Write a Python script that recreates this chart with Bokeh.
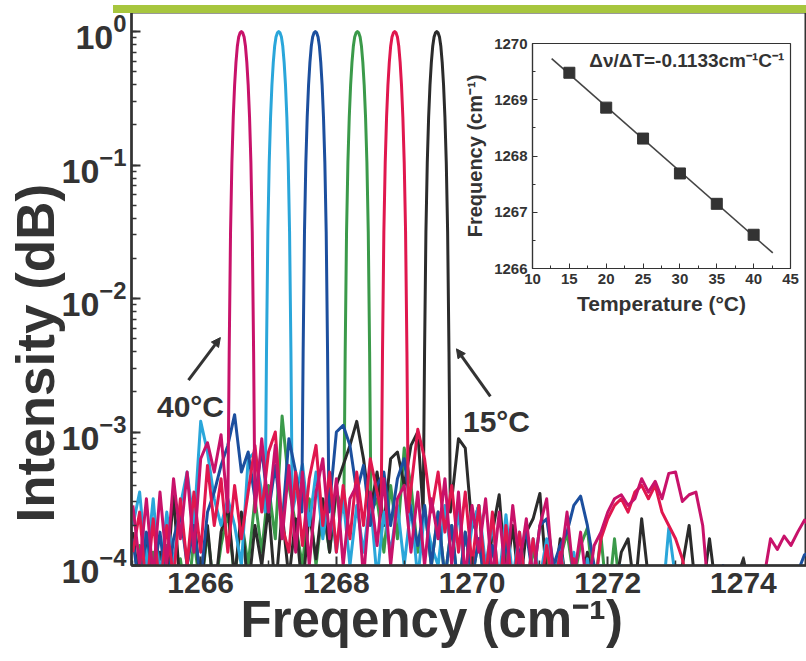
import numpy as np
from bokeh.plotting import figure
from bokeh.models import Label, Arrow, NormalHead, FixedTicker, Div, Title
from bokeh.embed import file_html
from bokeh.resources import INLINE

# ---------------- data ----------------
# inset: peak position vs temperature
temperatures = [15, 20, 25, 30, 35, 40]
peak_freq = [1269.48, 1268.86, 1268.31, 1267.69, 1267.15, 1266.60]
fit_range = [12.6, 42.6]

# main spectrum: sampling grid of the noise floor (cm^-1)
freq_grid = np.round(1265.0 + 0.1 * np.arange(101), 2)

# peak shape: offset from line centre (cm^-1) and log10 intensity
peak_offset = [-0.20, -0.18, -0.16, -0.14, -0.12, -0.10, -0.08, -0.06, -0.04, -0.02, 0.0,
               0.02, 0.04, 0.06, 0.08, 0.10, 0.12, 0.14, 0.16, 0.18, 0.20]
peak_log = [-3.6, -2.4, -1.5, -0.98, -0.64, -0.40, -0.23, -0.11, -0.04, -0.01, 0.0,
            -0.01, -0.04, -0.11, -0.23, -0.40, -0.64, -0.98, -1.5, -2.4, -3.6]

# noise floor, log10 intensity on freq_grid, one list per temperature
noise_15C = [
    -3.75, -4.2, -3.85, -4.25, -3.9, -4.1, -3.47, -4.2, -4.0, -3.6,
    -4.2, -3.7, -4.25, -3.75, -3.55, -4.1, -3.6, -4.2, -3.7, -4.0,
    -3.55, -4.2, -3.6, -4.1, -3.65, -4.2, -3.6, -3.95, -3.5, -3.9,
    -3.4, -3.25, -3.1, -2.92, -3.2, -3.6, -3.3, -3.7, -3.2, -3.15,
    -3.4, -3.1, -3.0, -3.0, -3.0, -3.0, -3.0, -3.0, -3.05, -3.12,
    -3.72, -3.55, -4.2, -3.75, -3.47, -4.1, -3.7, -4.2, -3.75, -3.65,
    -3.46, -4.1, -4.2, -3.8, -4.2, -3.95, -4.2, -3.9, -4.2, -4.1,
    -4.2, -4.2, -3.9, -3.8, -4.2, -3.65, -4.1, -4.2, -4.2, -4.2,
    -4.2, -4.0, -3.7, -4.2, -4.2, -3.8, -4.2, -4.2, -4.2, -4.1,
    -3.95, -4.2, -4.2, -4.2, -4.2, -4.2, -4.2, -4.2, -4.2, -4.2,
    -4.2]
noise_20C = [
    -3.9, -3.6, -4.2, -3.65, -4.2, -3.7, -4.1, -3.5, -4.0, -3.45,
    -3.9, -3.25, -3.7, -3.35, -3.9, -3.4, -3.8, -3.45, -3.1, -3.6,
    -3.15, -3.0, -3.7, -3.9, -3.3, -3.85, -3.35, -3.1, -3.7, -3.3,
    -3.9, -3.4, -3.8, -3.3, -3.7, -3.2, -3.35, -3.0, -3.0, -3.0,
    -3.0, -3.0, -2.98, -3.2, -3.6, -3.3, -3.75, -3.4, -3.9, -3.45,
    -4.0, -3.55, -4.1, -3.6, -4.2, -3.7, -4.2, -3.75, -4.2, -3.8,
    -4.2, -3.85, -4.2, -3.9, -4.2, -3.95, -4.2, -4.0, -4.2, -3.8,
    -3.65, -3.55, -3.5, -3.6, -3.45, -3.4, -3.5, -3.4, -3.6, -3.7,
    -3.8, -3.95, -4.2, -4.2, -4.2, -4.2, -4.2, -4.2, -4.2, -4.2,
    -4.2, -4.2, -4.2, -4.2, -4.2, -4.2, -4.2, -4.2, -4.2, -4.2,
    -4.2]
noise_25C = [
    -4.2, -3.85, -4.2, -3.9, -4.3, -3.85, -4.2, -3.95, -4.3, -3.8,
    -4.2, -3.75, -4.2, -3.85, -3.6, -4.1, -3.65, -4.0, -3.5, -3.9,
    -3.4, -3.8, -2.88, -3.4, -3.7, -4.0, -3.5, -4.0, -3.55, -3.9,
    -3.45, -3.0, -3.0, -3.0, -3.0, -3.0, -3.5, -3.9, -3.4, -3.8,
    -3.12, -3.4, -3.9, -3.55, -4.0, -3.6, -4.1, -3.7, -4.2, -3.75,
    -4.1, -3.8, -4.2, -3.85, -4.2, -3.9, -4.3, -3.95, -4.3, -3.85,
    -4.2, -3.9, -4.3, -3.95, -3.75, -4.1, -3.85, -3.72, -4.2, -3.78,
    -4.3, -3.8, -4.3, -4.3, -4.3, -4.3, -4.3, -4.3, -4.3, -4.3,
    -4.3, -4.3, -4.3, -4.3, -4.3, -4.3, -4.3, -4.3, -4.3, -4.3,
    -4.3, -4.3, -4.3, -4.3, -4.3, -4.3, -4.3, -4.3, -4.3, -4.3,
    -4.3]
noise_30C = [
    -3.8, -4.2, -3.75, -4.1, -3.75, -4.2, -3.8, -3.6, -4.0, -3.7,
    -4.1, -3.6, -3.45, -3.25, -3.1, -2.87, -3.3, -3.15, -3.5, -3.12,
    -3.6, -3.25, -3.7, -3.05, -3.3, -3.0, -3.0, -3.0, -3.0, -3.0,
    -3.0, -2.95, -3.1, -3.45, -3.25, -3.7, -3.4, -3.3, -3.7, -3.35,
    -3.2, -3.6, -3.85, -3.55, -4.0, -3.6, -4.1, -3.7, -4.2, -3.75,
    -4.1, -3.8, -4.2, -3.85, -4.2, -3.8, -4.2, -3.9, -3.75, -4.1,
    -3.7, -3.65, -4.0, -3.85, -3.75, -3.55, -3.48, -3.7, -4.0, -4.2,
    -4.3, -4.3, -4.3, -4.3, -4.3, -4.3, -4.3, -4.3, -4.3, -4.3,
    -4.3, -4.3, -4.3, -4.3, -4.3, -4.3, -4.3, -4.0, -4.3, -4.3,
    -4.3, -4.3, -4.3, -4.3, -4.3, -4.3, -4.3, -4.3, -4.05, -3.92,
    -3.9]
noise_35C = [
    -3.7, -3.45, -4.0, -3.5, -4.1, -3.6, -4.0, -3.55, -3.3, -3.7,
    -2.92, -3.15, -3.5, -3.7, -3.5, -3.7, -4.0, -3.2, -3.15, -3.4,
    -3.0, -3.0, -3.0, -3.0, -3.0, -3.24, -3.7, -3.3, -3.8, -3.45,
    -3.9, -3.5, -4.0, -3.55, -3.9, -3.5, -4.1, -3.6, -3.9, -3.55,
    -4.0, -3.55, -4.1, -3.6, -3.85, -4.0, -3.55, -3.95, -3.6, -4.1,
    -3.7, -3.55, -4.0, -3.7, -4.1, -3.62, -4.1, -3.75, -4.2, -3.8,
    -4.1, -3.8, -4.2, -3.85, -4.2, -3.9, -4.3, -3.95, -4.3, -4.0,
    -4.3, -4.3, -4.0, -4.3, -4.3, -4.3, -4.3, -4.3, -4.3, -3.72,
    -4.1, -4.3, -4.3, -4.3, -4.3, -4.3, -4.3, -4.3, -4.3, -4.3,
    -4.3, -4.3, -4.3, -4.3, -4.3, -4.3, -4.3, -4.3, -4.3, -4.3,
    -4.3]
noise_40C = [
    -3.55, -4.0, -3.5, -4.1, -3.45, -4.0, -3.35, -3.8, -3.3, -3.9,
    -3.2, -3.08, -3.3, -3.02, -3.0, -3.0, -3.0, -3.0, -3.0, -3.05,
    -3.6, -3.1, -3.8, -3.25, -3.9, -3.3, -4.0, -3.45, -3.2, -3.8,
    -3.35, -4.0, -3.5, -3.4, -4.1, -3.45, -3.85, -3.35, -4.0, -3.5,
    -3.4, -3.9, -3.45, -4.0, -3.5, -3.8, -3.35, -4.0, -3.45, -4.1,
    -3.55, -3.9, -3.5, -4.1, -3.6, -4.1, -3.55, -4.0, -3.65, -4.1,
    -3.7, -3.5, -4.1, -4.0, -3.6, -4.1, -3.75, -4.2, -3.85, -3.75,
    -3.6, -3.5, -3.47, -3.55, -3.5, -3.35, -3.45, -3.37, -3.5, -3.31,
    -3.3, -3.52, -3.47, -3.45, -3.7, -4.3, -4.3, -4.3, -4.3, -4.3,
    -4.3, -4.3, -4.3, -4.1, -3.8, -3.88, -3.78, -3.85, -3.75, -3.66,
    -3.72]

series = [  # (name, noise, colour) in drawing order
    ("25°C", noise_25C, "#3b9a4a"),
    ("15°C", noise_15C, "#2b2b2b"),
    ("35°C", noise_35C, "#2aa6da"),
    ("30°C", noise_30C, "#1c4f9e"),
    ("20°C", noise_20C, "#e0174e"),
    ("40°C", noise_40C, "#c8126a"),
]
centre_of = dict(zip(["15°C", "20°C", "25°C", "30°C", "35°C", "40°C"], peak_freq))

FONT = "Liberation Sans"
INK = "#333333"


def spectrum(centre, noise):
    xs, ys = [], []
    for f, v in zip(freq_grid, noise):
        if abs(f - centre) >= 0.27:
            xs.append(float(f))
            ys.append(10.0 ** v)
    for o, v in zip(peak_offset, peak_log):
        xs.append(centre + o)
        ys.append(10.0 ** v)
    order = np.argsort(xs)
    return np.array(xs)[order], np.array(ys)[order]


# ---------------- main plot ----------------
p = figure(width=806, height=661, x_range=(1264.98, 1274.93), y_range=(1e-4, 1.39),
           y_axis_type="log", output_backend="svg", toolbar_location=None,
           min_border_left=131, min_border_right=0, min_border_top=12, min_border_bottom=96)
p.xgrid.visible = False
p.ygrid.visible = False
p.outline_line_color = INK
p.outline_line_width = 2
p.background_fill_color = "white"
p.border_fill_color = "white"

for name, noise, col in series:
    xs, ys = spectrum(centre_of[name], noise)
    p.line(xs, ys, line_color=col, line_width=3, line_join="round")

for ax in (p.xaxis[0], p.yaxis[0]):
    ax.axis_line_color = INK
    ax.axis_line_width = 2.5
    ax.major_tick_line_color = INK
    ax.minor_tick_line_color = INK
    ax.major_tick_line_width = 2
    ax.minor_tick_line_width = 1.5
    ax.major_tick_in = 9
    ax.major_tick_out = 0
    ax.minor_tick_in = 5
    ax.minor_tick_out = 0
    ax.major_label_text_color = INK
    ax.major_label_text_font = FONT
    ax.major_label_text_font_style = "bold"

p.xaxis.ticker = FixedTicker(ticks=[1266, 1268, 1270, 1272, 1274],
                             minor_ticks=[1265, 1267, 1269, 1271, 1273])
p.xaxis.major_label_text_font_size = "30px"
p.xaxis.major_label_standoff = 7

p.yaxis.major_label_text_font_size = "34px"
p.yaxis.major_label_standoff = 5

p.add_layout(Title(text="Freqency (cm\u207b\u00b9)", align="left", offset=109,
                   text_font=FONT, text_font_size="51px", text_font_style="bold",
                   text_color=INK, standoff=-14), "below")
p.add_layout(Title(text="Intensity (dB)", align="left", offset=43,
                   text_font=FONT, text_font_size="53px", text_font_style="bold",
                   text_color=INK, standoff=-12), "left")

# annotations
for txt, x, y in [("40°C", 1265.85, 1.55e-3), ("15°C", 1270.36, 1.2e-3)]:
    p.add_layout(Label(x=x, y=y, text=txt, text_align="center", text_baseline="alphabetic",
                       text_font=FONT, text_font_style="bold", text_font_size="30px",
                       text_color=INK))
for xs0, ys0, xe, ye in [(1265.82, 2.45e-3, 1266.29, 5.1e-3),
                         (1270.27, 1.85e-3, 1269.77, 4.2e-3)]:
    p.add_layout(Arrow(end=NormalHead(size=9, fill_color=INK, line_color=INK),
                       x_start=xs0, y_start=ys0, x_end=xe, y_end=ye,
                       line_color=INK, line_width=3))

# ---------------- inset ----------------
q = figure(width=351, height=300, x_range=(10, 45), y_range=(1266, 1270),
           output_backend="svg", toolbar_location=None,
           min_border_left=77, min_border_right=16, min_border_top=13, min_border_bottom=62)
q.xgrid.visible = False
q.ygrid.visible = False
q.outline_line_color = INK
q.outline_line_width = 1.2
q.background_fill_color = "white"
q.border_fill_alpha = 0

slope, intercept = np.polyfit(temperatures, peak_freq, 1)
fit_T = np.array(fit_range)
q.line(fit_T, slope * fit_T + intercept, line_color="#444444", line_width=1.6)
q.scatter(temperatures, peak_freq, marker="square", size=11, color="#333333")

q.xaxis.ticker = FixedTicker(ticks=[10, 15, 20, 25, 30, 35, 40, 45],
                             minor_ticks=[12.5, 17.5, 22.5, 27.5, 32.5, 37.5, 42.5])
q.yaxis.ticker = FixedTicker(ticks=[1266, 1267, 1268, 1269, 1270],
                             minor_ticks=[1266.5, 1267.5, 1268.5, 1269.5])
for ax in (q.xaxis[0], q.yaxis[0]):
    ax.axis_line_color = INK
    ax.axis_line_width = 1.2
    ax.major_tick_line_color = INK
    ax.minor_tick_line_color = INK
    ax.major_tick_in = 5
    ax.major_tick_out = 0
    ax.minor_tick_in = 3
    ax.minor_tick_out = 0
    ax.major_label_text_color = INK
    ax.major_label_text_font = FONT
    ax.major_label_text_font_style = "bold"
    ax.major_label_text_font_size = "15px"
    ax.major_label_standoff = 5
    ax.axis_label_text_color = INK
    ax.axis_label_text_font = FONT
    ax.axis_label_text_font_style = "bold"
    ax.axis_label_standoff = 5
q.xaxis.axis_label = "Temperature (\u00b0C)"
q.xaxis.axis_label_text_font_size = "21px"
q.yaxis.axis_label = "Frequency (cm\u207b\u00b9)"
q.yaxis.axis_label_text_font_size = "20px"
q.add_layout(Label(x=17.7, y=1269.70, text="\u0394\u03bd/\u0394T=-0.1133cm\u207b\u00b9C\u207b\u00b9",
                   text_font=FONT, text_font_style="bold", text_font_size="19px",
                   text_color=INK, text_baseline="alphabetic"))
q.styles = {"position": "absolute", "left": "455px", "top": "30px"}

band = Div(text="", width=698, height=8,
           styles={"position": "absolute", "left": "108px", "top": "0px",
                   "background-color": "#a7c63e"})

open("out.html", "w").write(file_html([p, q, band], INLINE))
